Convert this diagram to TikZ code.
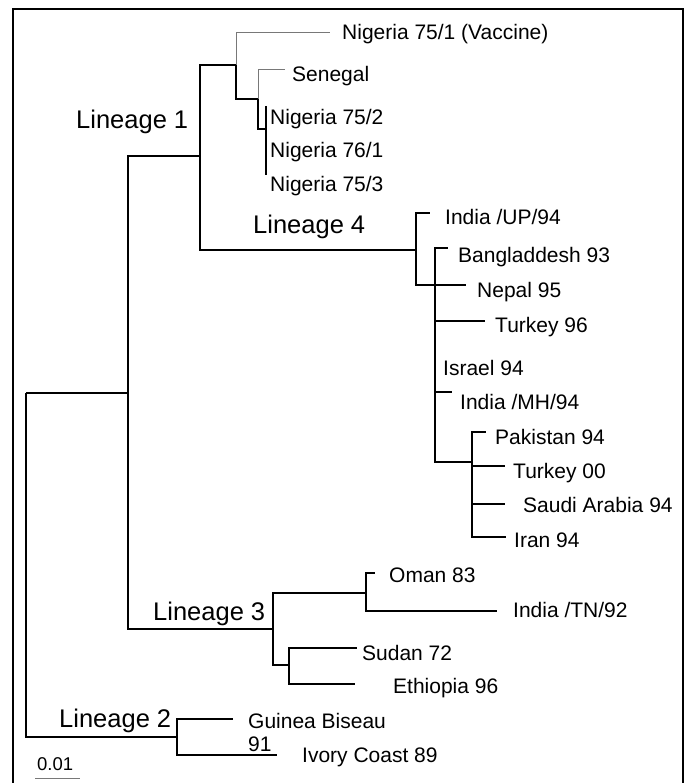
\documentclass[tikz,border=0pt]{standalone}
\usepackage{fontspec}
\setmainfont{Liberation Sans}
\usepackage{tikz}
\usetikzlibrary{positioning}
\definecolor{tipgray}{RGB}{120,120,120}

\begin{document}
\begin{tikzpicture}[x=1pt, y=-1pt, br/.style={draw=black, line width=1.2pt}, hb/.style={draw=black, line width=1.9pt}, tip/.style={draw=tipgray, line width=0.9pt}, leaf/.style={anchor=base west, inner sep=0pt, font=\fontsize{21}{24}\selectfont}, clade/.style={anchor=base west, inner sep=0pt, font=\fontsize{25.5}{29}\selectfont}]
\useasboundingbox (0,0) rectangle (684,783);
\draw[line width=2.5pt] (13,790) -- (13,9) -- (683,9) -- (683,790);
% inner nodes
\coordinate (root) at (26,393);
\coordinate (a) at (128,393);
\coordinate (b) at (200,156);
\coordinate (lin1) at (236,65);
\coordinate (c) at (258,99);
\coordinate (d) at (266,129);
\coordinate (d1) at (266,106);
\coordinate (d2) at (266,175);
\coordinate (lin4) at (416,250);
\coordinate (e) at (435,285);
\coordinate (f) at (472,462);
\coordinate (lin3) at (273,629);
\coordinate (g) at (366,593);
\coordinate (h) at (289,665);
\coordinate (lin2) at (177,737);
% tips
\coordinate (tNig751) at (330,32);
\coordinate (tSen) at (285,69);
\coordinate (tIndUP) at (430,213);
\coordinate (tBang) at (448,248);
\coordinate (tNep) at (466,285);
\coordinate (tTur96) at (485,321);
\coordinate (tIndMH) at (452,392);
\coordinate (tPak) at (486,432);
\coordinate (tTur00) at (505,466);
\coordinate (tSau) at (505,504);
\coordinate (tIran) at (506,537);
\coordinate (tOman) at (375,573);
\coordinate (tIndTN) at (497,611);
\coordinate (tSud) at (357,648);
\coordinate (tEth) at (355,684);
\coordinate (tGui) at (233,719);
\coordinate (tIvo) at (277,755);
\coordinate (sb1) at (35,778);
\coordinate (sb2) at (80,778);
% branches
\draw[br] (root) -- (a);
\draw[br] (root) |- (lin2);
\draw[br] (a) |- (b);
\draw[br] (a) |- (lin3);
\draw[br] (b) |- (lin1);
\draw[br] (b) |- (lin4);
\draw[tip] (lin1) |- (tNig751);
\draw[hb] (lin1) |- (c);
\draw[tip] (c) |- (tSen);
\draw[br] (c) |- (d);
\draw[hb] (d1) -- (d2);
\draw[br] (lin4) |- (tIndUP);
\draw[br] (lin4) |- (e);
\draw[br] (e) |- (tBang);
\draw[br] (e) |- (tNep);
\draw[br] (e) |- (tTur96);
\draw[br] (e) |- (tIndMH);
\draw[br] (e) |- (f);
\draw[br] (f) |- (tPak);
\draw[br] (f) |- (tTur00);
\draw[br] (f) |- (tSau);
\draw[br] (f) |- (tIran);
\draw[hb] (lin3) |- (g);
\draw[br] (lin3) |- (h);
\draw[br] (g) |- (tOman);
\draw[br] (g) |- (tIndTN);
\draw[br] (h) |- (tSud);
\draw[br] (h) |- (tEth);
\draw[br] (lin2) |- (tGui);
\draw[br] (lin2) |- (tIvo);
\draw[tip] (sb1) -- (sb2);
% labels
\node[leaf] (nig751) at (342,40) {Nigeria 75/1 (Vaccine)};
\node[leaf] (sen) at (292,82) {Senegal};
\node[leaf] (nig752) at (270,125) {Nigeria 75/2};
\node[leaf] (nig761) at (270,158) {Nigeria 76/1};
\node[leaf] (nig753) at (270,192) {Nigeria 75/3};
\node[leaf] (indup) at (445,225) {India /UP/94};
\node[leaf] (bang) at (458,262) {Bangladdesh 93};
\node[leaf] (nep) at (477,297) {Nepal 95};
\node[leaf] (tur96) at (495,332) {Turkey 96};
\node[leaf] (isr) at (443,375) {Israel 94};
\node[leaf] (indmh) at (460,409) {India /MH/94};
\node[leaf] (pak) at (495,444) {Pakistan 94};
\node[leaf] (tur00) at (513,478) {Turkey 00};
\node[leaf] (sau) at (523,512) {Saudi Arabia 94};
\node[leaf] (iran) at (514,547) {Iran 94};
\node[leaf] (oman) at (389,582) {Oman 83};
\node[leaf] (indtn) at (513,617) {India /TN/92};
\node[leaf] (sud) at (362,660) {Sudan 72};
\node[leaf] (eth) at (393,693) {Ethiopia 96};
\node[leaf] (gui) at (248,728) {Guinea Biseau};
\node[leaf] (boot) at (248,751) {91};
\node[leaf] (ivo) at (302,762) {Ivory Coast 89};
\node[leaf, font=\fontsize{18.5}{22}\selectfont] (scale) at (37,770) {0.01};
\node[clade] (cl1) at (76,129) {Lineage 1};
\node[clade] (cl4) at (253,234) {Lineage 4};
\node[clade] (cl3) at (153,620) {Lineage 3};
\node[clade] (cl2) at (59,727) {Lineage 2};
\end{tikzpicture}
\end{document}
